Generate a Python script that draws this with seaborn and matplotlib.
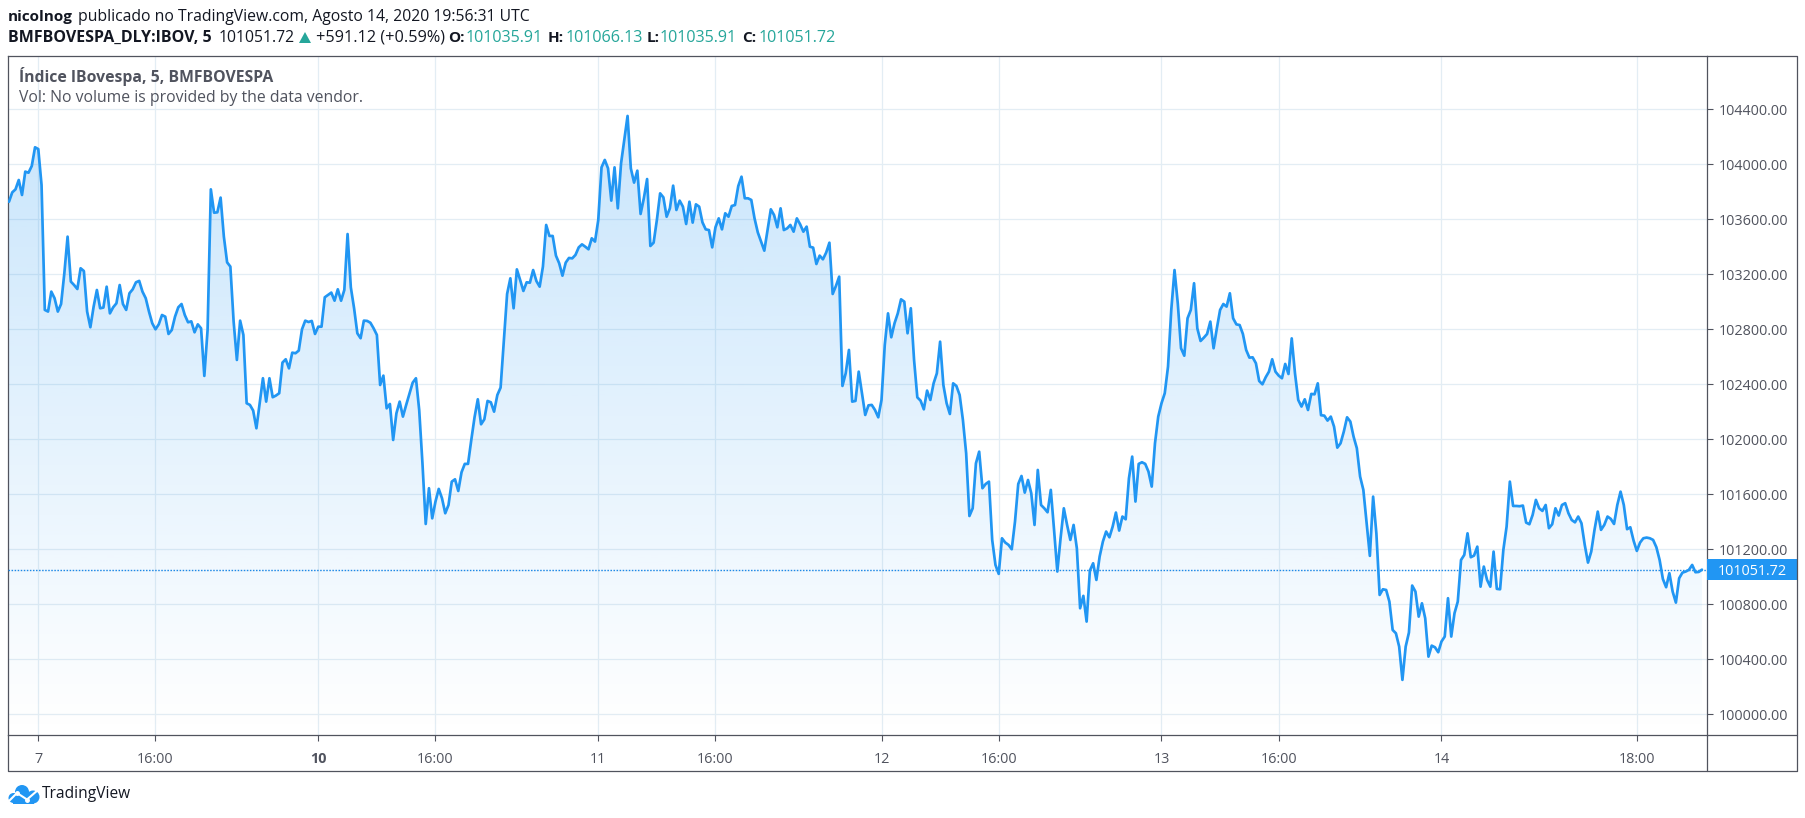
import numpy as np
import pandas as pd
import matplotlib
matplotlib.use('Agg')
import matplotlib.pyplot as plt
import seaborn as sns
from matplotlib.lines import Line2D
from matplotlib.patches import Circle, Polygon, Rectangle
from matplotlib.transforms import Affine2D, blended_transform_factory

# 5 minute closes per session
aug07 = [103728, 103796, 103818, 103886, 103777, 103947, 103939, 103988, 104124, 104111,
         103850, 102941, 102929, 103074, 103026, 102929, 102984, 103207, 103474, 103147,
         103122, 103093, 103244, 103224, 102929, 102815, 102965, 103086, 102953, 102958,
         103110, 102916, 102960, 102989, 103122, 102984, 102941, 103062, 103091, 103142,
         103152, 103074, 103026, 102929, 102844, 102800, 102836, 102904, 102892, 102766,
         102795, 102892, 102960, 102984, 102904, 102851, 102858, 102778, 102836, 102807,
         102461, 102795, 103818, 103648, 103651, 103758, 103474, 103287, 103256, 102856,
         102577, 102863, 102759, 102262, 102250, 102209, 102080, 102262, 102444, 102274,
         102444, 102306, 102318, 102335, 102558, 102582, 102516, 102630, 102626, 102645,
         102800, 102863, 102853, 102861, 102766]
aug10 = [102819, 102819, 103033, 103050, 103067, 103008, 103091, 103008, 103086, 103493,
         103105, 102953, 102771, 102735, 102863, 102861, 102848, 102807, 102759, 102395,
         102463, 102225, 102257, 101995, 102189, 102274, 102165, 102250, 102330, 102412,
         102444, 102213, 101825, 101384, 101644, 101425, 101547, 101639, 101571, 101462,
         101522, 101692, 101709, 101624, 101760, 101821, 101821, 101995, 102160, 102291,
         102109, 102145, 102279, 102269, 102201, 102322, 102376, 102722, 103057, 103171,
         102953, 103236, 103159, 103079, 103142, 103139, 103231, 103151, 103110, 103256,
         103559, 103479, 103479, 103336, 103280, 103190, 103285, 103319, 103316, 103341,
         103396, 103418, 103401, 103382, 103462, 103438]
aug11 = [103595, 103978, 104032, 103971, 103736, 103978, 103680, 104007, 104177, 104352,
         103971, 103867, 103954, 103639, 103753, 103893, 103406, 103430, 103595, 103789,
         103760, 103619, 103680, 103845, 103668, 103736, 103692, 103566, 103728, 103576,
         103709, 103692, 103578, 103527, 103522, 103396, 103542, 103607, 103527, 103644,
         103619, 103697, 103704, 103842, 103910, 103753, 103753, 103741, 103607, 103505,
         103438, 103372, 103522, 103673, 103631, 103542, 103680, 103522, 103534, 103559,
         103510, 103607, 103564, 103510, 103547, 103401, 103394, 103275, 103336, 103309,
         103358, 103430, 103057, 103115, 103183, 102388, 102480, 102650, 102274, 102279,
         102492, 102335, 102177, 102247, 102250, 102213, 102160]
aug12 = [102286, 102686, 102916, 102742, 102844, 102916, 103018, 103001, 102771, 102953,
         102577, 102305, 102281, 102218, 102354, 102286, 102407, 102480, 102710, 102395,
         102262, 102184, 102407, 102388, 102322, 102141, 101898, 101442, 101498, 101825,
         101910, 101644, 101675, 101692, 101268, 101086, 101021, 101280, 101249, 101232,
         101200, 101401, 101675, 101733, 101612, 101704, 101607, 101377, 101777, 101522,
         101498, 101469, 101632, 101341, 101038, 101280, 101498, 101377, 101268, 101377,
         101207, 100771, 100861, 100674, 101045, 101098, 100977, 101147, 101256, 101329,
         101287, 101365, 101467, 101336, 101438, 101418, 101716, 101874, 101547, 101821,
         101833, 101821, 101765, 101656, 101971, 102165]
aug13 = [102262, 102335, 102528, 102941, 103231, 102989, 102662, 102608, 102880, 102941,
         103135, 102807, 102715, 102739, 102766, 102856, 102662, 102807, 102941, 102984,
         102965, 103062, 102880, 102836, 102831, 102766, 102650, 102594, 102596, 102553,
         102424, 102400, 102451, 102492, 102582, 102492, 102463, 102444, 102548, 102475,
         102734, 102480, 102286, 102238, 102291, 102213, 102330, 102327, 102407, 102175,
         102172, 102136, 102165, 102092, 101939, 101971, 102056, 102160, 102129, 102019,
         101935, 101729, 101632, 101389, 101152, 101583, 101316, 100868, 100909, 100904,
         100819, 100613, 100589, 100492, 100250, 100492, 100594, 100936, 100892, 100710,
         100807, 100698, 100419, 100499, 100487, 100451]
aug14 = [100529, 100565, 100844, 100565, 100735, 100819, 101122, 101159, 101316, 101142,
         101154, 101219, 100928, 101074, 100977, 100928, 101183, 100912, 100909, 101195,
         101365, 101692, 101515, 101515, 101513, 101518, 101394, 101382, 101450, 101559,
         101498, 101479, 101522, 101353, 101382, 101498, 101445, 101522, 101535, 101462,
         101413, 101396, 101438, 101389, 101232, 101103, 101183, 101341, 101474, 101341,
         101377, 101438, 101421, 101384, 101522, 101619, 101522, 101346, 101360, 101263,
         101188, 101249, 101280, 101285, 101280, 101268, 101215, 101122, 100984, 100924,
         101026, 100892, 100812, 100989, 101030, 101038, 101050, 101086, 101033, 101035,
         101051.72]

last_price = 101051.72
price_ticks = [100000, 100400, 100800, 101200, 101600, 102000, 102400, 102800, 103200, 103600, 104000, 104400]
time_ticks = [0, 36, 86, 122, 172, 208, 259, 295, 345, 381, 431, 491]
time_labels = ['7', '16:00', '10', '16:00', '11', '16:00', '12', '16:00', '13', '16:00', '14', '18:00']

BLUE = '#2196f3'
FRAME = '#50535e'
GRID = '#e3edf4'
TEAL = '#26a69a'
W, H = 1805, 818

sns.set_theme(style='white')
plt.rcParams['font.family'] = ['Open Sans', 'DejaVu Sans']

closes = aug07 + aug10 + aug11 + aug12 + aug13 + aug14
df = pd.DataFrame({'bar': np.arange(-9, -9 + len(closes)), 'close': closes})

fig = plt.figure(figsize=(W / 100, H / 100), dpi=100, facecolor='white')
# pixel coordinates from the top left, used for page furniture only
PX = Affine2D().scale(1 / W, -1 / H).translate(0, 1) + fig.transFigure

left, right, top, bottom = 8.4, 1706.5, 56, 735
ax = fig.add_axes([left / W, 1 - bottom / H, (right - left) / W, (bottom - top) / H])
xlim = (-9.18, 512.4)
ylim = (99849, 104788)

sns.lineplot(data=df, x='bar', y='close', ax=ax, color=BLUE, linewidth=1.95,
             estimator=None, sort=False, zorder=4)

# gradient under the line
poly = ax.fill_between(df['bar'], df['close'], ylim[0], color='none', linewidth=0)
alpha = np.linspace(0.25, 0.0, 256)
grad = np.zeros((256, 1, 4))
grad[..., 0], grad[..., 1], grad[..., 2] = 33 / 255, 150 / 255, 243 / 255
grad[:, 0, 3] = alpha
im = ax.imshow(grad, extent=(xlim[0], xlim[1], ylim[0], 104470), aspect='auto', zorder=2, origin='upper')
im.set_clip_path(poly.get_paths()[0], transform=ax.transData)

ax.axhline(last_price, color='#1e88e5', linewidth=1.0, linestyle=(0, (1.1, 1.1)), zorder=3)

ax.set_xlim(*xlim)
ax.set_ylim(*ylim)
ax.set_xlabel('')
ax.set_ylabel('')
ax.set_axisbelow(True)
ax.grid(True, color=GRID, linewidth=0.9)

ax.set_xticks(time_ticks)
ax.set_xticklabels(time_labels)
ax.set_yticks(price_ticks)
ax.set_yticklabels([f'{p:.2f}' for p in price_ticks])
ax.yaxis.tick_right()
ax.tick_params(axis='x', length=4, width=0.8, color=FRAME, labelcolor=FRAME, labelsize=10.4, pad=8, bottom=True)
ax.tick_params(axis='y', length=4.5, width=0.8, color=FRAME, labelcolor=FRAME, labelsize=10.4, pad=4, right=True)
ax.get_xticklabels()[2].set_fontweight('bold')
for spine in ax.spines.values():
    spine.set_color(FRAME)
    spine.set_linewidth(0.9)

# last price tag on the scale
tag_tr = blended_transform_factory(ax.transAxes, ax.transData)
tag_w = (1796.5 - right) / (right - left)
ax.add_patch(Rectangle((1, last_price - 76), tag_w, 152, transform=tag_tr, color=BLUE,
                       clip_on=False, zorder=5, linewidth=0))
ax.text(1 + 11 / (right - left), last_price, f'{last_price:.2f}', transform=tag_tr, color='white',
        fontsize=10.4, va='center_baseline', ha='left', zorder=6, clip_on=False)

# outer frame of the scales
for xs, ys in [((right, 1796.5, 1796.5, left, left), (top, top, 771, 771, bottom)),
               ((right, right), (bottom, 771)),
               ((right, 1796.5), (bottom, bottom))]:
    fig.add_artist(Line2D(xs, ys, transform=PX, color=FRAME, linewidth=0.9))

# legend inside the pane
ax.text(19, 77, 'Índice IBovespa, 5, BMFBOVESPA', transform=PX, color=FRAME, fontsize=11.3,
        fontweight='bold', va='center', zorder=6)
ax.text(19, 98, 'Vol: No volume is provided by the data vendor.', transform=PX, color=FRAME,
        fontsize=11.3, va='center', zorder=6)

# publication header
def header(x, y, s, color='#131722', weight='normal', size=11.35):
    fig.text(x, y, s, transform=PX, color=color, fontsize=size, fontweight=weight, va='center')

header(8, 17, 'nicolnog', weight='bold', size=11)
header(77.5, 17, 'publicado no TradingView.com, Agosto 14, 2020 19:56:31 UTC')
header(8, 38, 'BMFBOVESPA_DLY:IBOV, 5', weight='bold', size=11.5)
header(218.5, 38, '101051.72')
fig.add_artist(Polygon([(299, 43), (311, 43), (305, 32)], transform=PX, color=TEAL, linewidth=0))
header(316, 38, '+591.12 (+0.59%)', size=11.7)
for x_lab, lab, x_val, val in [(448, 'O:', 466, '101035.91'), (548, 'H:', 565.5, '101066.13'),
                               (647, 'L:', 660, '101035.91'), (742, 'C:', 759, '101051.72')]:
    header(x_lab, 38, lab, weight='bold', size=11)
    header(x_val, 38, val, color=TEAL, size=11.6)

# TradingView mark
for cx, cy, r in [(13.5, 798, 5), (22, 792, 7), (33, 797, 6.5)]:
    fig.add_artist(Circle((cx, cy), r, transform=PX, color=BLUE, linewidth=0))
fig.add_artist(Rectangle((13, 797), 21, 6.5, transform=PX, color=BLUE, linewidth=0))
fig.add_artist(Line2D((9, 17, 27, 38), (801, 793, 799.5, 790), transform=PX, color='white', linewidth=1.5,
                      marker='o', markersize=2.5, markevery=[1, 2]))
fig.text(42, 794, 'TradingView', transform=PX, color='#131722', fontsize=11.2, va='center')

fig.savefig('out.png', dpi=100)
